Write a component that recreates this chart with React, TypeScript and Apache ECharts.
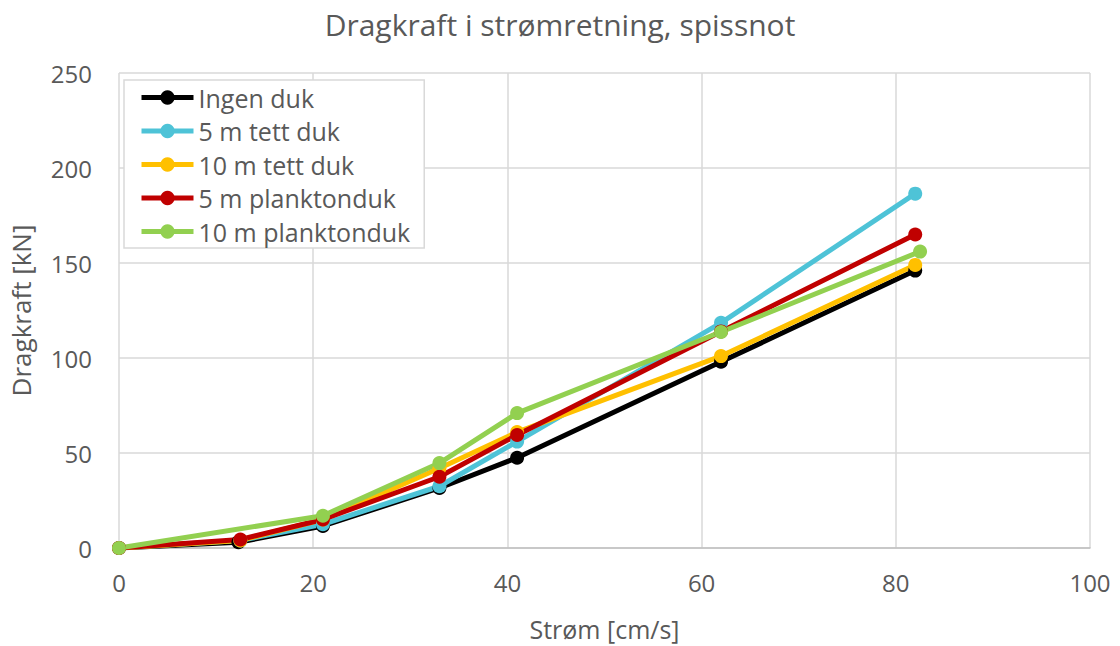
import React, { useEffect, useRef } from "react";
import * as echarts from "echarts";

const seriesNames = ["Ingen duk", "5 m tett duk", "10 m tett duk", "5 m planktonduk", "10 m planktonduk"];
const colors = ["#000000", "#4EC3D7", "#FFC000", "#C00000", "#92D050"];

const ingenDuk = [[0, 0], [12.3, 3], [21, 11.6], [33, 31.6], [41, 47.5], [62, 98], [82, 146]];
const tett5 = [[0, 0], [12.5, 4], [21, 12.5], [33, 32.5], [41, 56], [62, 118.5], [82, 186.5]];
const tett10 = [[0, 0], [12.5, 4], [21, 15], [33, 42], [41, 61], [62, 101], [82, 149]];
const plankton5 = [[0, 0], [12.5, 4.5], [21, 15], [33, 37.5], [41, 59.5], [62, 114], [82, 165]];
const plankton10 = [[0, 0], [21, 17], [33, 44.7], [41, 71], [62, 113.7], [82.5, 156]];

const allData = [ingenDuk, tett5, tett10, plankton5, plankton10];

const FONT = "'Open Sans', 'Noto Sans', sans-serif";

export default function App() {
  const ref = useRef<HTMLDivElement>(null);
  useEffect(() => {
    if (!ref.current) return;
    const chart = echarts.init(ref.current, undefined, { renderer: "svg" });
    chart.setOption({
      animation: false,
      backgroundColor: "#ffffff",
      title: {
        text: "Dragkraft i strømretning, spissnot",
        left: "center",
        top: 4,
        textStyle: { fontFamily: FONT, fontSize: 30, fontWeight: "normal", color: "#595959" },
      },
      legend: {
        orient: "vertical",
        left: 124,
        top: 80,
        padding: [5, 14, 4, 15],
        itemGap: 8.5,
        itemWidth: 52,
        itemHeight: 18,
        borderColor: "#d9d9d9",
        borderWidth: 1.5,
        backgroundColor: "#ffffff",
        lineStyle: { width: 5 },
        textStyle: { fontFamily: FONT, fontSize: 25, lineHeight: 25, color: "#595959" },
        data: seriesNames,
      },
      grid: { left: 119, right: 30, top: 73, bottom: 98 },
      xAxis: {
        type: "value",
        min: 0,
        max: 100,
        interval: 20,
        name: "Strøm [cm/s]",
        nameLocation: "middle",
        nameGap: 68,
        nameTextStyle: { fontFamily: FONT, fontSize: 25, color: "#595959" },
        axisLine: { show: true, lineStyle: { color: "#bfbfbf", width: 1.5 } },
        axisTick: { show: false },
        axisLabel: { fontFamily: FONT, fontSize: 24, color: "#595959", margin: 22 },
        splitLine: { show: true, lineStyle: { color: "#d9d9d9", width: 1.5 } },
      },
      yAxis: {
        type: "value",
        min: 0,
        max: 250,
        interval: 50,
        name: "Dragkraft [kN]",
        nameLocation: "middle",
        nameGap: 85,
        nameTextStyle: { fontFamily: FONT, fontSize: 26, color: "#595959" },
        axisLine: { show: false },
        axisTick: { show: false },
        axisLabel: { fontFamily: FONT, fontSize: 24, color: "#595959", margin: 27 },
        splitLine: { show: true, lineStyle: { color: "#d9d9d9", width: 1.5 } },
      },
      series: seriesNames.map((name, i) => ({
        name,
        type: "line",
        data: allData[i],
        symbol: "circle",
        symbolSize: 14,
        showSymbol: true,
        color: colors[i],
        lineStyle: { width: 5, color: colors[i] },
        itemStyle: { color: colors[i] },
      })),
    });
    return () => chart.dispose();
  }, []);
  return <div ref={ref} style={{ position: "fixed", left: 0, top: 0, width: 1120, height: 646 }} />;
}
